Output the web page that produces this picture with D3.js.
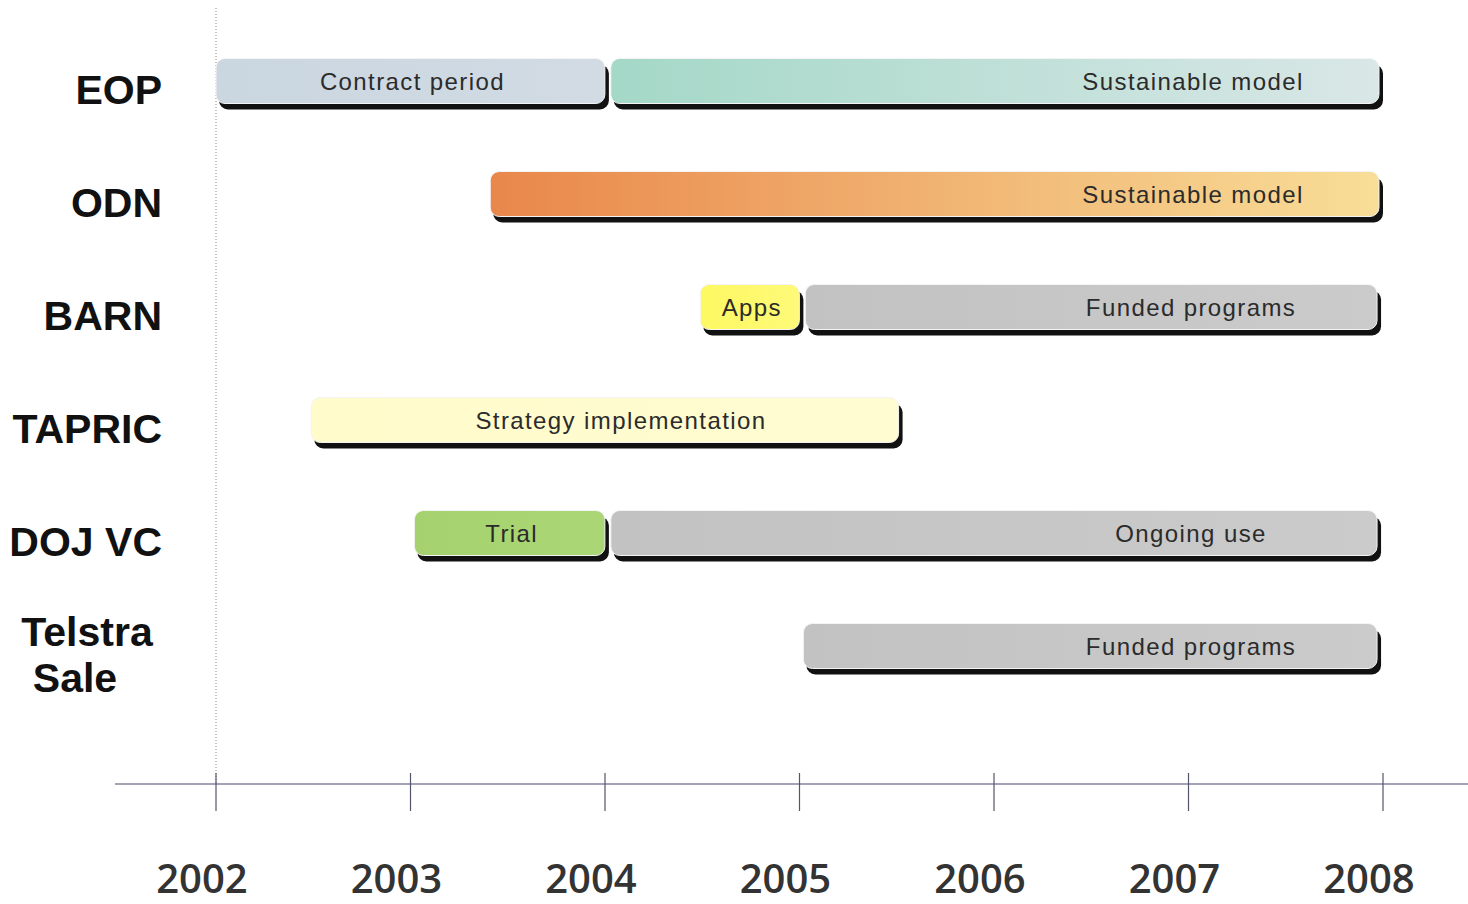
<!DOCTYPE html>
<html>
<head>
<meta charset="utf-8">
<script src="https://cdnjs.cloudflare.com/ajax/libs/d3/7.8.5/d3.min.js"></script>
<style>
	body { margin: 0; background: #fff; }
	svg { display: block; }
</style>
</head>
<body>
<div id="timeline"></div>
<script>
// rows, top to bottom
var rows = ["EOP", "ODN", "BARN", "TAPRIC", "DOJ VC", "Telstra Sale"];
var rowLines = [["EOP"], ["ODN"], ["BARN"], ["TAPRIC"], ["DOJ VC"], ["Telstra", "Sale"]];
var years = [2002, 2003, 2004, 2005, 2006, 2007, 2008];

// phases (one entry per bar segment)
var phaseRow   = ["EOP", "EOP", "ODN", "BARN", "BARN", "TAPRIC", "DOJ VC", "DOJ VC", "Telstra Sale"];
var phaseStart = [2002.0, 2004.03, 2003.41, 2004.49, 2005.03, 2002.49, 2003.02, 2004.03, 2005.02];
var phaseEnd   = [2004.02, 2008.0, 2008.0, 2005.02, 2007.99, 2005.53, 2004.02, 2007.99, 2007.99];
var phaseLabel = ["Contract period", "Sustainable model", "Sustainable model", "Apps", "Funded programs",
				  "Strategy implementation", "Trial", "Ongoing use", "Funded programs"];
var phaseKind  = ["contract", "sustainEOP", "sustainODN", "apps", "funded", "strategy", "trial", "ongoing", "funded"];

var width = 1468,
	height = 904,
	barH = 45,
	radius = 9;

var colours = {
	contract:   ["#cad6e0", "#d2dbe4"],
	sustainEOP: ["#a4d8c7", "#d9e7e7"],
	sustainODN: ["#e9874b", "#f8de98"],
	apps:       ["#fdf862", "#fefa78"],
	funded:     ["#c2c2c2", "#cbcbcb"],
	strategy:   ["#fffbcb", "#fffcd2"],
	trial:      ["#a5d26e", "#abd676"],
	ongoing:    ["#c2c2c2", "#cbcbcb"]
};

var data = phaseRow.map(function(r, i) {
	return { row: r, start: phaseStart[i], end: phaseEnd[i], label: phaseLabel[i], kind: phaseKind[i] };
});

var x = d3.scaleLinear().domain([2002, 2008]).range([216, 1383]);
var y = d3.scalePoint().domain(rows).range([81, 646]);

var svg = d3.select("#timeline").append("svg")
	.attr("width", width)
	.attr("height", height);

var defs = svg.append("defs");
Object.keys(colours).forEach(function(k) {
	var g = defs.append("linearGradient").attr("id", "grad-" + k)
		.attr("x1", "0%").attr("x2", "100%").attr("y1", "0%").attr("y2", "0%");
	g.append("stop").attr("offset", "0%").attr("stop-color", colours[k][0]);
	g.append("stop").attr("offset", "100%").attr("stop-color", colours[k][1]);
});

// dotted start line
svg.append("line")
	.attr("x1", x(2002)).attr("x2", x(2002))
	.attr("y1", 8).attr("y2", 784)
	.attr("stroke", "#8a8a8a")
	.attr("stroke-width", 1)
	.attr("stroke-dasharray", "1,2");

// axis
var axisY = 784;
svg.append("line")
	.attr("x1", 115).attr("x2", width)
	.attr("y1", axisY).attr("y2", axisY)
	.attr("stroke", "#a3a3b8")
	.attr("stroke-width", 2);

svg.selectAll(".tick").data(years).enter()
	.append("line")
	.attr("class", "tick")
	.attr("x1", function(d) { return x(d); })
	.attr("x2", function(d) { return x(d); })
	.attr("y1", axisY - 11).attr("y2", axisY + 27)
	.attr("stroke", "#55556a")
	.attr("stroke-width", 1.2);

svg.selectAll(".year").data(years).enter()
	.append("text")
	.attr("class", "year")
	.attr("x", function(d) { return x(d) - 14; })
	.attr("y", 893)
	.attr("text-anchor", "middle")
	.style("font-family", "'Open Sans', sans-serif")
	.style("font-weight", 600)
	.style("font-size", "40px")
	.style("fill", "#333")
	.text(function(d) { return d; });

// row labels
var rowLabel = svg.selectAll(".rowlabel").data(rows).enter()
	.append("text")
	.attr("class", "rowlabel")
	.style("font-family", "'Liberation Sans', Arial, sans-serif")
	.style("font-weight", "bold")
	.style("font-size", "41px")
	.style("fill", "#111");

rowLabel.each(function(d, i) {
	var lines = rowLines[i];
	var t = d3.select(this);
	var lh = 46;
	var top = y(d) + 9 - (lines.length - 1) * lh / 2;
	lines.forEach(function(line, j) {
		t.append("tspan")
			.attr("x", lines.length > 1 ? 87 - j * 12 : 162)
			.attr("text-anchor", lines.length > 1 ? "middle" : "end")
			.attr("y", top + j * lh)
			.attr("dy", "0.35em")
			.text(line);
	});
});

// bars
var bar = svg.selectAll(".phase").data(data).enter()
	.append("g")
	.attr("class", "phase");

bar.append("rect")
	.attr("x", function(d) { return x(d.start) + 3; })
	.attr("y", function(d) { return y(d.row) - barH / 2 + 6; })
	.attr("width", function(d) { return x(d.end) - x(d.start) - 3; })
	.attr("height", barH)
	.attr("rx", radius).attr("ry", radius)
	.style("fill", "#111");

bar.append("rect")
	.attr("x", function(d) { return x(d.start); })
	.attr("y", function(d) { return y(d.row) - barH / 2; })
	.attr("width", function(d) { return x(d.end) - x(d.start) - 4; })
	.attr("height", barH)
	.attr("rx", radius).attr("ry", radius)
	.style("fill", function(d) { return "url(#grad-" + d.kind + ")"; })
	.style("stroke", "#f4f4f4")
	.style("stroke-width", 1);

// labels on long bars running to 2008 sit near the right end
bar.append("text")
	.attr("x", function(d) {
		var w = x(d.end) - x(d.start);
		if (w > 500 && d.end > 2007.9) return x(d.end) - 190;
		return (x(d.start) + x(d.end)) / 2 + (w > 400 ? 14 : 0);
	})
	.attr("y", function(d) { return y(d.row) + 1; })
	.attr("dy", "0.35em")
	.attr("text-anchor", "middle")
	.style("font-family", "'Liberation Sans', Arial, sans-serif")
	.style("font-size", "24px")
	.style("letter-spacing", "1.4px")
	.style("fill", "#2b2b2b")
	.text(function(d) { return d.label; });
</script>
</body>
</html>
